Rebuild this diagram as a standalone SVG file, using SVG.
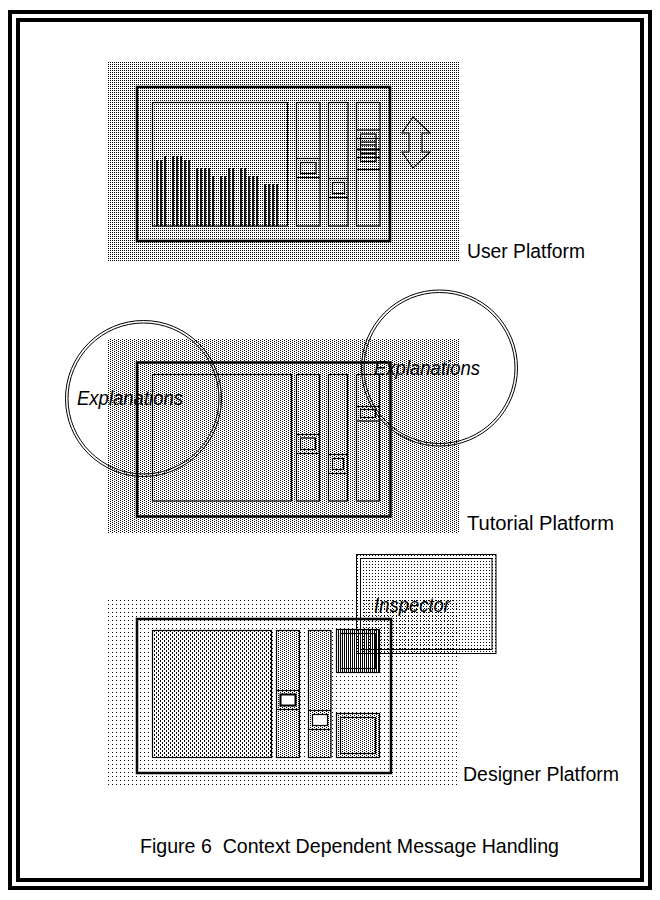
<svg xmlns="http://www.w3.org/2000/svg" width="660" height="900" viewBox="0 0 660 900">
<defs>
<pattern id="pUser" width="2" height="2" patternUnits="userSpaceOnUse"><rect width="1" height="1" fill="#000"/></pattern>
<pattern id="pTut" width="4" height="2" patternUnits="userSpaceOnUse"><rect width="1" height="1" fill="#000"/><rect x="2" y="1" width="1" height="1" fill="#000"/></pattern>
<pattern id="pDes" width="4" height="4" patternUnits="userSpaceOnUse"><rect width="1" height="1" fill="#000"/></pattern>
<pattern id="pMain" width="4" height="4" patternUnits="userSpaceOnUse"><rect width="1" height="2" fill="#000"/><rect x="2" y="2" width="1" height="2" fill="#000"/></pattern>
<pattern id="pDark" width="2" height="2" patternUnits="userSpaceOnUse"><rect width="1" height="2" fill="#000"/></pattern>
<pattern id="pInsp" width="3" height="3" patternUnits="userSpaceOnUse"><rect width="1" height="1" fill="#000"/></pattern>
</defs>
<style>
.win{fill:none;stroke:#000;stroke-width:2.5}
.thin{fill:none;stroke:#000;stroke-width:1.2}
.thk{fill:none;stroke:#000;stroke-width:2}
.bar{stroke:#000;stroke-width:1.8}
.lbl{font-family:"Liberation Sans",Arial,sans-serif;font-size:20px;fill:#000}
.it{font-family:"Liberation Sans",Arial,sans-serif;font-style:italic;font-size:20px;fill:#000}
.circ{fill:none;stroke:#000;stroke-width:1}
</style>
<rect width="660" height="900" fill="#fff"/>
<g id="frame">
<rect x="10" y="12" width="640" height="876" fill="none" stroke="#000" stroke-width="4"/>
<rect x="18" y="20" width="624" height="860" fill="none" stroke="#000" stroke-width="4"/>
</g>

<g id="user-platform">
<rect x="108" y="62" width="352" height="200" fill="url(#pUser)" shape-rendering="crispEdges"/>
<rect x="137" y="87" width="253" height="154" class="win"/>
<rect x="152.5" y="102.5" width="135" height="123.5" class="thin"/>
<g class="bar">
<line x1="157" y1="226" x2="157" y2="160"/><line x1="161" y1="226" x2="161" y2="160"/><line x1="165" y1="226" x2="165" y2="156"/>
<line x1="173" y1="226" x2="173" y2="156"/><line x1="177" y1="226" x2="177" y2="156"/><line x1="181" y1="226" x2="181" y2="156"/>
<line x1="185" y1="226" x2="185" y2="160"/><line x1="189" y1="226" x2="189" y2="160"/>
<line x1="197" y1="226" x2="197" y2="168"/><line x1="201" y1="226" x2="201" y2="168"/><line x1="205" y1="226" x2="205" y2="168"/><line x1="209" y1="226" x2="209" y2="168"/>
<line x1="213" y1="226" x2="213" y2="176"/>
<line x1="221" y1="226" x2="221" y2="176"/><line x1="225" y1="226" x2="225" y2="176"/>
<line x1="229" y1="226" x2="229" y2="168"/><line x1="233" y1="226" x2="233" y2="168"/>
<line x1="241" y1="226" x2="241" y2="168"/><line x1="245" y1="226" x2="245" y2="168"/>
<line x1="249" y1="226" x2="249" y2="176"/><line x1="253" y1="226" x2="253" y2="176"/><line x1="257" y1="226" x2="257" y2="176"/>
<line x1="265" y1="226" x2="265" y2="184"/><line x1="269" y1="226" x2="269" y2="184"/><line x1="273" y1="226" x2="273" y2="184"/><line x1="277" y1="226" x2="277" y2="184"/>
</g>
<rect x="296.5" y="102.5" width="23.5" height="123.5" class="thin"/>
<line x1="296.5" y1="158.5" x2="320" y2="158.5" class="thin"/>
<line x1="296.5" y1="177.5" x2="320" y2="177.5" class="thin"/>
<rect x="300.5" y="162.5" width="15.5" height="11" class="thin"/>
<rect x="328.5" y="102.5" width="19.5" height="123.5" class="thin"/>
<line x1="328.5" y1="178.5" x2="348" y2="178.5" class="thin"/>
<line x1="328.5" y1="197.5" x2="348" y2="197.5" class="thin"/>
<rect x="332.5" y="182.5" width="12" height="11" class="thin"/>
<rect x="356.5" y="102.5" width="23.5" height="123.5" class="thin"/>
<line x1="356.5" y1="130" x2="380" y2="130" class="thin"/>
<line x1="356.5" y1="138.5" x2="380" y2="138.5" class="thin"/>
<line x1="356.5" y1="149.5" x2="380" y2="149.5" class="thk"/>
<line x1="356.5" y1="157.5" x2="380" y2="157.5" class="thin"/>
<line x1="356.5" y1="169.5" x2="380" y2="169.5" class="thin"/>
<rect x="360.5" y="134" width="15.5" height="27.5" class="thin"/>
<line x1="360.5" y1="142" x2="376" y2="142" class="thin"/>
<line x1="360.5" y1="145" x2="376" y2="145" class="thin"/>
<line x1="360.5" y1="153.5" x2="376" y2="153.5" class="thk"/>
<polygon points="413,117 430,133 422,133 422,152 430,152 413,168 402,152 409,152 409,133 402,133" fill="none" stroke="#000" stroke-width="1.1"/>
<text x="467" y="258" class="lbl" textLength="118" lengthAdjust="spacingAndGlyphs">User Platform</text>
</g>

<g id="tutorial-platform">
<rect x="108" y="339" width="352" height="194" fill="url(#pTut)" shape-rendering="crispEdges"/>
<rect x="137" y="362.5" width="253.5" height="154" class="win"/>
<rect x="152.5" y="374.5" width="139" height="126.5" class="thin"/>
<rect x="296.5" y="374.5" width="23" height="126.5" class="thin"/>
<line x1="296.5" y1="434.5" x2="319.5" y2="434.5" class="thin"/>
<line x1="296.5" y1="453.5" x2="319.5" y2="453.5" class="thin"/>
<rect x="300.5" y="438" width="15" height="11.5" class="thin"/>
<rect x="328.5" y="374.5" width="19" height="126.5" class="thin"/>
<line x1="328.5" y1="454.5" x2="347.5" y2="454.5" class="thin"/>
<line x1="328.5" y1="473.5" x2="347.5" y2="473.5" class="thin"/>
<rect x="332.5" y="458.5" width="11" height="11" class="thin"/>
<rect x="356.5" y="374.5" width="23" height="126.5" class="thin"/>
<line x1="356.5" y1="406.5" x2="379.5" y2="406.5" class="thin"/>
<line x1="356.5" y1="421" x2="379.5" y2="421" class="thin"/>
<rect x="360.5" y="409.5" width="15" height="8" class="thin"/>
<text x="467" y="530" class="lbl" textLength="147" lengthAdjust="spacingAndGlyphs">Tutorial Platform</text>
</g>

<g id="explanations-left">
<circle cx="143.5" cy="398.5" r="78" class="circ"/>
<circle cx="143.5" cy="398.5" r="75.5" class="circ"/>
<text x="77" y="405" class="it" textLength="106" lengthAdjust="spacingAndGlyphs">Explanations</text>
</g>
<g id="explanations-right">
<circle cx="439.5" cy="368" r="78" class="circ"/>
<circle cx="439.5" cy="368" r="75.5" class="circ"/>
<text x="374" y="375" class="it" textLength="106" lengthAdjust="spacingAndGlyphs">Explanations</text>
</g>

<g id="designer-platform">
<rect x="108" y="598" width="352" height="188" fill="url(#pDes)" shape-rendering="crispEdges"/>
<rect x="137" y="619" width="254" height="154" class="win"/>
<rect x="152.5" y="630.5" width="119" height="127" fill="url(#pMain)" stroke="#000" stroke-width="1.2"/>
<rect x="276.5" y="630.5" width="23" height="127" fill="url(#pTut)" stroke="#000" stroke-width="1.2"/>
<line x1="276.5" y1="690.5" x2="299.5" y2="690.5" class="thin"/>
<line x1="276.5" y1="709.5" x2="299.5" y2="709.5" class="thin"/>
<rect x="280.5" y="694.5" width="15" height="11" fill="#fff" stroke="#000" stroke-width="2"/>
<rect x="308.5" y="630.5" width="22.5" height="127" fill="url(#pTut)" stroke="#000" stroke-width="1.2"/>
<line x1="308.5" y1="710.5" x2="331" y2="710.5" class="thin"/>
<line x1="308.5" y1="729.5" x2="331" y2="729.5" class="thin"/>
<rect x="312.5" y="714.5" width="15" height="11" fill="#fff" stroke="#000" stroke-width="1.2"/>
<rect x="336.5" y="629.5" width="43" height="43" fill="url(#pDark)" stroke="#000" stroke-width="1.2"/>
<rect x="340.5" y="633.5" width="35" height="35" class="thin"/>
<rect x="336.5" y="713.5" width="43" height="44" fill="url(#pTut)" stroke="#000" stroke-width="1.2"/>
<rect x="340.5" y="717.5" width="35" height="36" class="thin"/>
<text x="463" y="781" class="lbl" textLength="156" lengthAdjust="spacingAndGlyphs">Designer Platform</text>
</g>

<g id="inspector">
<rect x="356.5" y="554.5" width="139.5" height="99" fill="url(#pInsp)" stroke="#000" stroke-width="1"/>
<rect x="360.5" y="558.5" width="131.5" height="91" fill="none" stroke="#000" stroke-width="1"/>
<text x="374" y="612" class="it" textLength="76" lengthAdjust="spacingAndGlyphs">Inspector</text>
</g>

<g id="connectors"></g>

<g id="caption">
<text x="140" y="853" class="lbl" textLength="419" lengthAdjust="spacingAndGlyphs" style="font-size:21px">Figure 6&#160; Context Dependent Message Handling</text>
</g>
</svg>
